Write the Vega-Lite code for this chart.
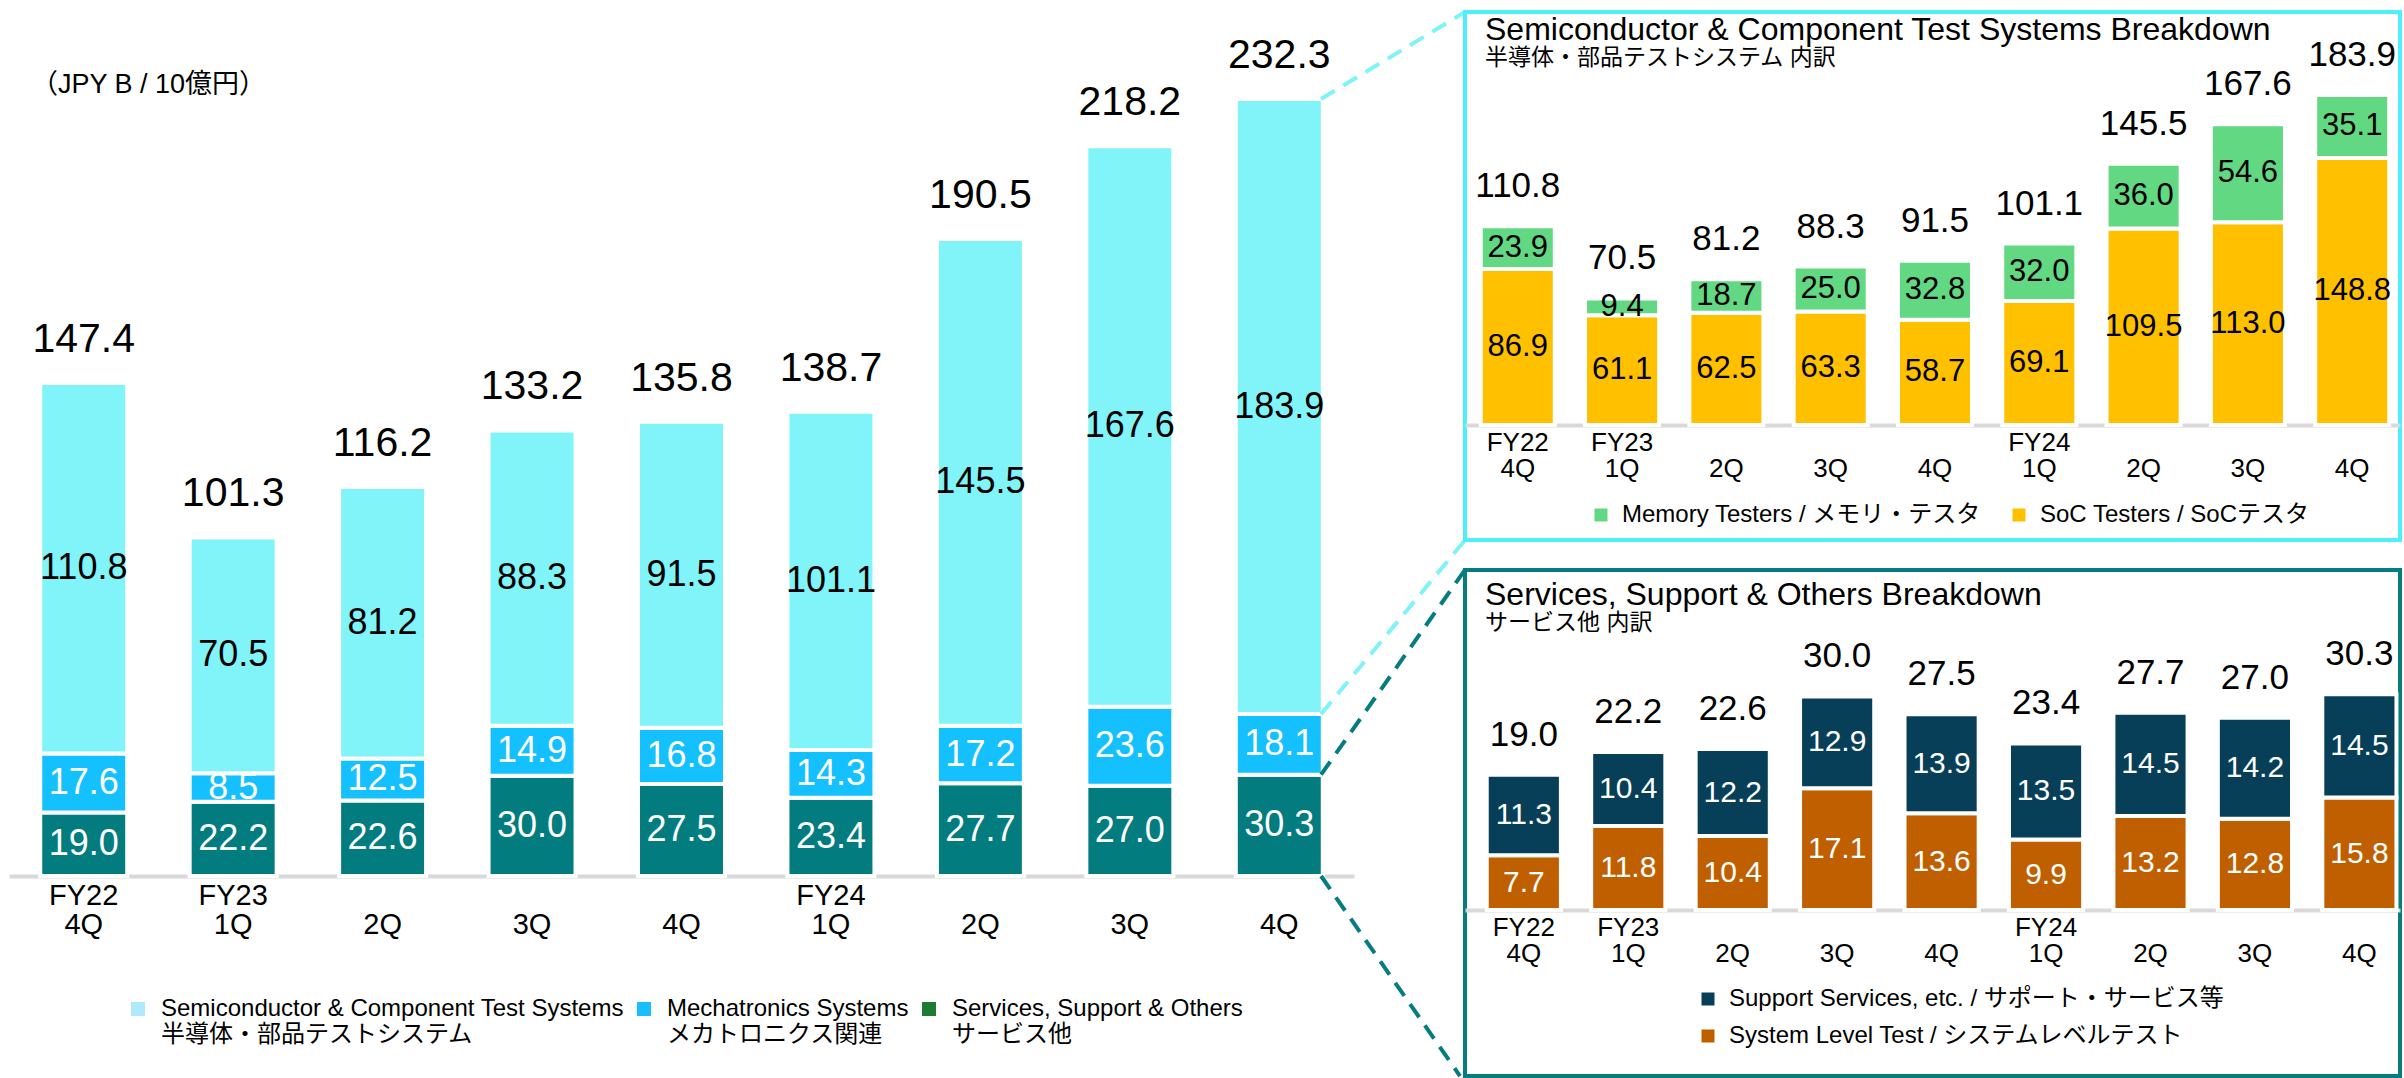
{
  "$schema": "https://vega.github.io/schema/vega-lite/v6.json",
  "padding": {"left": 9, "top": 10, "right": 0, "bottom": 0},
  "background": "white",
  "config": {
    "font": "Liberation Sans, Noto Sans CJK JP, sans-serif",
    "view": {"stroke": null},
    "axis": {"domainColor": "#d9d9d9", "domainWidth": 4, "ticks": false, "tickSize": 0, "labelColor": "#000000", "grid": false, "labelAngle": 0, "labelBaseline": "top", "title": null},
    "legend": {"title": null, "padding": 0, "symbolType": "square", "symbolStrokeWidth": 0, "labelColor": "#000000", "labelLimit": 0, "orient": "none"},
    "title": {"color": "#000000", "subtitleColor": "#000000", "fontWeight": "normal", "anchor": "start", "frame": "group", "subtitleFontWeight": "normal"}
  },
  "datasets": {
    "main": [
      {"q": "FY22|4Q", "s": "Services, Support & Others|サービス他", "k": 1, "v": 19.0},
      {"q": "FY22|4Q", "s": "Mechatronics Systems|メカトロニクス関連", "k": 2, "v": 17.6},
      {"q": "FY22|4Q", "s": "Semiconductor & Component Test Systems|半導体・部品テストシステム", "k": 3, "v": 110.8},
      {"q": "FY23|1Q", "s": "Services, Support & Others|サービス他", "k": 1, "v": 22.2},
      {"q": "FY23|1Q", "s": "Mechatronics Systems|メカトロニクス関連", "k": 2, "v": 8.5},
      {"q": "FY23|1Q", "s": "Semiconductor & Component Test Systems|半導体・部品テストシステム", "k": 3, "v": 70.5},
      {"q": "FY23|2Q", "s": "Services, Support & Others|サービス他", "k": 1, "v": 22.6},
      {"q": "FY23|2Q", "s": "Mechatronics Systems|メカトロニクス関連", "k": 2, "v": 12.5},
      {"q": "FY23|2Q", "s": "Semiconductor & Component Test Systems|半導体・部品テストシステム", "k": 3, "v": 81.2},
      {"q": "FY23|3Q", "s": "Services, Support & Others|サービス他", "k": 1, "v": 30.0},
      {"q": "FY23|3Q", "s": "Mechatronics Systems|メカトロニクス関連", "k": 2, "v": 14.9},
      {"q": "FY23|3Q", "s": "Semiconductor & Component Test Systems|半導体・部品テストシステム", "k": 3, "v": 88.3},
      {"q": "FY23|4Q", "s": "Services, Support & Others|サービス他", "k": 1, "v": 27.5},
      {"q": "FY23|4Q", "s": "Mechatronics Systems|メカトロニクス関連", "k": 2, "v": 16.8},
      {"q": "FY23|4Q", "s": "Semiconductor & Component Test Systems|半導体・部品テストシステム", "k": 3, "v": 91.5},
      {"q": "FY24|1Q", "s": "Services, Support & Others|サービス他", "k": 1, "v": 23.4},
      {"q": "FY24|1Q", "s": "Mechatronics Systems|メカトロニクス関連", "k": 2, "v": 14.3},
      {"q": "FY24|1Q", "s": "Semiconductor & Component Test Systems|半導体・部品テストシステム", "k": 3, "v": 101.1},
      {"q": "FY24|2Q", "s": "Services, Support & Others|サービス他", "k": 1, "v": 27.7},
      {"q": "FY24|2Q", "s": "Mechatronics Systems|メカトロニクス関連", "k": 2, "v": 17.2},
      {"q": "FY24|2Q", "s": "Semiconductor & Component Test Systems|半導体・部品テストシステム", "k": 3, "v": 145.5},
      {"q": "FY24|3Q", "s": "Services, Support & Others|サービス他", "k": 1, "v": 27.0},
      {"q": "FY24|3Q", "s": "Mechatronics Systems|メカトロニクス関連", "k": 2, "v": 23.6},
      {"q": "FY24|3Q", "s": "Semiconductor & Component Test Systems|半導体・部品テストシステム", "k": 3, "v": 167.6},
      {"q": "FY24|4Q", "s": "Services, Support & Others|サービス他", "k": 1, "v": 30.3},
      {"q": "FY24|4Q", "s": "Mechatronics Systems|メカトロニクス関連", "k": 2, "v": 18.1},
      {"q": "FY24|4Q", "s": "Semiconductor & Component Test Systems|半導体・部品テストシステム", "k": 3, "v": 183.9}
    ],
    "mainTotals": [
      {"q": "FY22|4Q", "t": 147.4}, {"q": "FY23|1Q", "t": 101.3}, {"q": "FY23|2Q", "t": 116.2},
      {"q": "FY23|3Q", "t": 133.2}, {"q": "FY23|4Q", "t": 135.8}, {"q": "FY24|1Q", "t": 138.7},
      {"q": "FY24|2Q", "t": 190.5}, {"q": "FY24|3Q", "t": 218.2}, {"q": "FY24|4Q", "t": 232.3}
    ],
    "connectors": [
      {"g": "semi", "x1": 0.9755, "y1": 232.3, "x2": 1.0825, "y2": 258.3},
      {"g": "semi", "x1": 0.9755, "y1": 48.4, "x2": 1.0825, "y2": 100.4},
      {"g": "svc", "x1": 0.9755, "y1": 30.3, "x2": 1.0825, "y2": 91.5},
      {"g": "svc", "x1": 0.9755, "y1": 0, "x2": 1.0788, "y2": -59.8}
    ],
    "semi": [
      {"q": "FY22|4Q", "s": "SoC Testers / SoCテスタ", "k": 1, "v": 86.9},
      {"q": "FY22|4Q", "s": "Memory Testers / メモリ・テスタ", "k": 2, "v": 23.9},
      {"q": "FY23|1Q", "s": "SoC Testers / SoCテスタ", "k": 1, "v": 61.1},
      {"q": "FY23|1Q", "s": "Memory Testers / メモリ・テスタ", "k": 2, "v": 9.4},
      {"q": "FY23|2Q", "s": "SoC Testers / SoCテスタ", "k": 1, "v": 62.5},
      {"q": "FY23|2Q", "s": "Memory Testers / メモリ・テスタ", "k": 2, "v": 18.7},
      {"q": "FY23|3Q", "s": "SoC Testers / SoCテスタ", "k": 1, "v": 63.3},
      {"q": "FY23|3Q", "s": "Memory Testers / メモリ・テスタ", "k": 2, "v": 25.0},
      {"q": "FY23|4Q", "s": "SoC Testers / SoCテスタ", "k": 1, "v": 58.7},
      {"q": "FY23|4Q", "s": "Memory Testers / メモリ・テスタ", "k": 2, "v": 32.8},
      {"q": "FY24|1Q", "s": "SoC Testers / SoCテスタ", "k": 1, "v": 69.1},
      {"q": "FY24|1Q", "s": "Memory Testers / メモリ・テスタ", "k": 2, "v": 32.0},
      {"q": "FY24|2Q", "s": "SoC Testers / SoCテスタ", "k": 1, "v": 109.5},
      {"q": "FY24|2Q", "s": "Memory Testers / メモリ・テスタ", "k": 2, "v": 36.0},
      {"q": "FY24|3Q", "s": "SoC Testers / SoCテスタ", "k": 1, "v": 113.0},
      {"q": "FY24|3Q", "s": "Memory Testers / メモリ・テスタ", "k": 2, "v": 54.6},
      {"q": "FY24|4Q", "s": "SoC Testers / SoCテスタ", "k": 1, "v": 148.8},
      {"q": "FY24|4Q", "s": "Memory Testers / メモリ・テスタ", "k": 2, "v": 35.1}
    ],
    "semiTotals": [
      {"q": "FY22|4Q", "t": 110.8}, {"q": "FY23|1Q", "t": 70.5}, {"q": "FY23|2Q", "t": 81.2},
      {"q": "FY23|3Q", "t": 88.3}, {"q": "FY23|4Q", "t": 91.5}, {"q": "FY24|1Q", "t": 101.1},
      {"q": "FY24|2Q", "t": 145.5}, {"q": "FY24|3Q", "t": 167.6}, {"q": "FY24|4Q", "t": 183.9}
    ],
    "svc": [
      {"q": "FY22|4Q", "s": "System Level Test / システムレベルテスト", "k": 1, "v": 7.7},
      {"q": "FY22|4Q", "s": "Support Services, etc. / サポート・サービス等", "k": 2, "v": 11.3},
      {"q": "FY23|1Q", "s": "System Level Test / システムレベルテスト", "k": 1, "v": 11.8},
      {"q": "FY23|1Q", "s": "Support Services, etc. / サポート・サービス等", "k": 2, "v": 10.4},
      {"q": "FY23|2Q", "s": "System Level Test / システムレベルテスト", "k": 1, "v": 10.4},
      {"q": "FY23|2Q", "s": "Support Services, etc. / サポート・サービス等", "k": 2, "v": 12.2},
      {"q": "FY23|3Q", "s": "System Level Test / システムレベルテスト", "k": 1, "v": 17.1},
      {"q": "FY23|3Q", "s": "Support Services, etc. / サポート・サービス等", "k": 2, "v": 12.9},
      {"q": "FY23|4Q", "s": "System Level Test / システムレベルテスト", "k": 1, "v": 13.6},
      {"q": "FY23|4Q", "s": "Support Services, etc. / サポート・サービス等", "k": 2, "v": 13.9},
      {"q": "FY24|1Q", "s": "System Level Test / システムレベルテスト", "k": 1, "v": 9.9},
      {"q": "FY24|1Q", "s": "Support Services, etc. / サポート・サービス等", "k": 2, "v": 13.5},
      {"q": "FY24|2Q", "s": "System Level Test / システムレベルテスト", "k": 1, "v": 13.2},
      {"q": "FY24|2Q", "s": "Support Services, etc. / サポート・サービス等", "k": 2, "v": 14.5},
      {"q": "FY24|3Q", "s": "System Level Test / システムレベルテスト", "k": 1, "v": 12.8},
      {"q": "FY24|3Q", "s": "Support Services, etc. / サポート・サービス等", "k": 2, "v": 14.2},
      {"q": "FY24|4Q", "s": "System Level Test / システムレベルテスト", "k": 1, "v": 15.8},
      {"q": "FY24|4Q", "s": "Support Services, etc. / サポート・サービス等", "k": 2, "v": 14.5}
    ],
    "svcTotals": [
      {"q": "FY22|4Q", "t": 19.0}, {"q": "FY23|1Q", "t": 22.2}, {"q": "FY23|2Q", "t": 22.6},
      {"q": "FY23|3Q", "t": 30.0}, {"q": "FY23|4Q", "t": 27.5}, {"q": "FY24|1Q", "t": 23.4},
      {"q": "FY24|2Q", "t": 27.7}, {"q": "FY24|3Q", "t": 27.0}, {"q": "FY24|4Q", "t": 30.3}
    ]
  },
  "bounds": "flush",
  "spacing": 111,
  "resolve": {"scale": {"color": "independent", "fill": "independent", "x": "independent", "y": "independent"}, "legend": {"color": "independent", "fill": "independent"}},
  "hconcat": [
    {
      "width": 1345,
      "height": 864,
      "title": {"text": "（JPY B / 10億円）", "fontSize": 27, "offset": -89, "dx": 22},
      "resolve": {"scale": {"x": "independent"}},
      "layer": [
        {
          "layer": [
            {
              "data": {"name": "main"},
              "mark": {"type": "square", "opacity": 0, "size": 1},
              "encoding": {
                "x": {"field": "q", "type": "nominal", "scale": {"domain": ["FY22|4Q","FY23|1Q","FY23|2Q","FY23|3Q","FY23|4Q","FY24|1Q","FY24|2Q","FY24|3Q","FY24|4Q"], "paddingInner": 0.418, "paddingOuter": 0.209}},
                "y": {"datum": 0, "type": "quantitative"},
                "color": {"field": "s", "type": "nominal",
                  "scale": {"domain": ["Semiconductor & Component Test Systems|半導体・部品テストシステム", "Mechatronics Systems|メカトロニクス関連", "Services, Support & Others|サービス他"], "range": ["#aee9fc", "#19bffd", "#1e7b32"]},
                  "legend": {"direction": "horizontal", "columns": 3, "legendX": 117, "legendY": 985, "labelFontSize": 24, "labelLineHeight": 25, "symbolSize": 196, "symbolOpacity": 1, "columnPadding": 8, "labelOffset": 11,
                    "labelExpr": "split(datum.label, '|')"}}
              }
            },
            {
              "data": {"name": "main"},
              "mark": {"type": "bar", "stroke": "white", "strokeWidth": 4},
              "encoding": {
                "x": {"field": "q", "type": "nominal", "scale": {"domain": ["FY22|4Q","FY23|1Q","FY23|2Q","FY23|3Q","FY23|4Q","FY24|1Q","FY24|2Q","FY24|3Q","FY24|4Q"], "paddingInner": 0.418, "paddingOuter": 0.209},
                  "axis": {"labelFontSize": 29, "labelLineHeight": 29, "labelPadding": 5, "labelExpr": "indexof(['FY22|4Q','FY23|1Q','FY24|1Q'], datum.value) >= 0 ? split(datum.value, '|') : ['', split(datum.value, '|')[1]]"}},
                "y": {"field": "v", "type": "quantitative", "stack": "zero", "scale": {"domain": [0, 258.3], "nice": false, "zero": false}, "axis": null},
                "fill": {"field": "s", "type": "nominal",
                  "scale": {"domain": ["Semiconductor & Component Test Systems|半導体・部品テストシステム", "Mechatronics Systems|メカトロニクス関連", "Services, Support & Others|サービス他"], "range": ["#80f4f9", "#14c0fe", "#037c80"]},
                  "legend": null},
                "order": {"field": "k", "type": "quantitative"}
              }
            },
            {
              "data": {"name": "main"},
              "mark": {"type": "text", "fontSize": 36, "baseline": "middle"},
              "encoding": {
                "x": {"field": "q", "type": "nominal"},
                "y": {"field": "v", "type": "quantitative", "stack": "zero", "bandPosition": 0.5},
                "text": {"field": "v", "type": "quantitative", "format": ".1f"},
                "order": {"field": "k", "type": "quantitative"},
                "fill": {"condition": {"test": "datum.k === 3", "value": "#000000"}, "value": "#ffffff"}
              }
            },
            {
              "data": {"name": "mainTotals"},
              "mark": {"type": "text", "fontSize": 41, "baseline": "alphabetic", "dy": -31, "color": "#000000"},
              "encoding": {
                "x": {"field": "q", "type": "nominal"},
                "y": {"field": "t", "type": "quantitative"},
                "text": {"field": "t", "type": "quantitative", "format": ".1f"}
              }
            }
          ]
        },
        {
          "data": {"name": "connectors"},
          "mark": {"type": "rule", "strokeDash": [16, 10], "strokeWidth": 4},
          "encoding": {
            "x": {"field": "x1", "type": "quantitative", "scale": {"domain": [0, 1], "nice": false, "zero": false}, "axis": null},
            "x2": {"field": "x2"},
            "y": {"field": "y1", "type": "quantitative", "scale": {"domain": [0, 258.3], "nice": false, "zero": false}},
            "y2": {"field": "y2"},
            "stroke": {"condition": {"test": "datum.g === 'semi'", "value": "#7ff3fa"}, "value": "#057d80"}
          }
        }
      ]
    },
    {
      "bounds": "flush",
      "spacing": 30,
      "resolve": {"scale": {"color": "independent", "x": "independent", "y": "independent"}, "legend": {"color": "independent"}},
      "vconcat": [
        {
          "width": 935,
          "height": 528,
          "view": {"stroke": "#4cf0fa", "strokeWidth": 4},
          "title": {"text": "Semiconductor & Component Test Systems Breakdown", "subtitle": "半導体・部品テストシステム 内訳", "fontSize": 32, "subtitleFontSize": 23, "subtitlePadding": 0, "offset": -59, "dx": 20},
          "layer": [
            {
              "data": {"name": "semi"},
              "mark": {"type": "bar", "stroke": "white", "strokeWidth": 4},
              "encoding": {
                "x": {"field": "q", "type": "nominal", "scale": {"domain": ["FY22|4Q","FY23|1Q","FY23|2Q","FY23|3Q","FY23|4Q","FY24|1Q","FY24|2Q","FY24|3Q","FY24|4Q"], "paddingInner": 0.29, "paddingOuter": 0.127, "align": 0.594},
                  "axis": {"offset": -115, "labelFontSize": 26, "labelLineHeight": 26, "labelPadding": 4, "labelExpr": "indexof(['FY22|4Q','FY23|1Q','FY24|1Q'], datum.value) >= 0 ? split(datum.value, '|') : ['', split(datum.value, '|')[1]]"}},
                "y": {"field": "v", "type": "quantitative", "stack": "zero", "scale": {"domain": [-64.07, 230.1], "nice": false, "zero": false}, "axis": null},
                "color": {"field": "s", "type": "nominal",
                  "scale": {"domain": ["Memory Testers / メモリ・テスタ", "SoC Testers / SoCテスタ"], "range": ["#63d882", "#ffc000"]},
                  "legend": {"direction": "horizontal", "columns": 2, "legendX": 124, "legendY": 491, "labelFontSize": 24, "symbolSize": 169, "columnPadding": 26, "labelOffset": 9}},
                "order": {"field": "k", "type": "quantitative"}
              }
            },
            {
              "data": {"name": "semi"},
              "mark": {"type": "text", "fontSize": 31, "baseline": "middle", "color": "#000000"},
              "encoding": {
                "x": {"field": "q", "type": "nominal"},
                "y": {"field": "v", "type": "quantitative", "stack": "zero", "bandPosition": 0.5},
                "text": {"field": "v", "type": "quantitative", "format": ".1f"},
                "order": {"field": "k", "type": "quantitative"}
              }
            },
            {
              "data": {"name": "semiTotals"},
              "mark": {"type": "text", "fontSize": 35, "baseline": "alphabetic", "dy": -29, "color": "#000000"},
              "encoding": {
                "x": {"field": "q", "type": "nominal"},
                "y": {"field": "t", "type": "quantitative"},
                "text": {"field": "t", "type": "quantitative", "format": ".1f"}
              }
            }
          ]
        },
        {
          "width": 935,
          "height": 506,
          "view": {"stroke": "#057d80", "strokeWidth": 4},
          "title": {"text": "Services, Support & Others Breakdown", "subtitle": "サービス他 内訳", "fontSize": 32, "subtitleFontSize": 23, "subtitlePadding": 0, "offset": -66, "dx": 20},
          "layer": [
            {
              "data": {"name": "svc"},
              "mark": {"type": "bar", "stroke": "white", "strokeWidth": 4},
              "encoding": {
                "x": {"field": "q", "type": "nominal", "scale": {"domain": ["FY22|4Q","FY23|1Q","FY23|2Q","FY23|3Q","FY23|4Q","FY24|1Q","FY24|2Q","FY24|3Q","FY24|4Q"], "paddingInner": 0.29, "paddingOuter": 0.121, "align": 0.86},
                  "axis": {"offset": -166, "labelFontSize": 26, "labelLineHeight": 26, "labelPadding": 4, "labelExpr": "indexof(['FY22|4Q','FY23|1Q','FY24|1Q'], datum.value) >= 0 ? split(datum.value, '|') : ['', split(datum.value, '|')[1]]"}},
                "y": {"field": "v", "type": "quantitative", "stack": "zero", "scale": {"domain": [-23.31, 47.75], "nice": false, "zero": false}, "axis": null},
                "color": {"field": "s", "type": "nominal",
                  "scale": {"domain": ["Support Services, etc. / サポート・サービス等", "System Level Test / システムレベルテスト"], "range": ["#073f58", "#c05f00"]},
                  "legend": {"direction": "vertical", "legendX": 231, "legendY": 417, "labelFontSize": 24, "symbolSize": 169, "rowPadding": 13, "labelOffset": 9}},
                "order": {"field": "k", "type": "quantitative"}
              }
            },
            {
              "data": {"name": "svc"},
              "mark": {"type": "text", "fontSize": 30, "baseline": "middle", "color": "#ffffff"},
              "encoding": {
                "x": {"field": "q", "type": "nominal"},
                "y": {"field": "v", "type": "quantitative", "stack": "zero", "bandPosition": 0.5},
                "text": {"field": "v", "type": "quantitative", "format": ".1f"},
                "order": {"field": "k", "type": "quantitative"}
              }
            },
            {
              "data": {"name": "svcTotals"},
              "mark": {"type": "text", "fontSize": 35, "baseline": "alphabetic", "dy": -29, "color": "#000000"},
              "encoding": {
                "x": {"field": "q", "type": "nominal"},
                "y": {"field": "t", "type": "quantitative"},
                "text": {"field": "t", "type": "quantitative", "format": ".1f"}
              }
            }
          ]
        }
      ]
    }
  ]
}
